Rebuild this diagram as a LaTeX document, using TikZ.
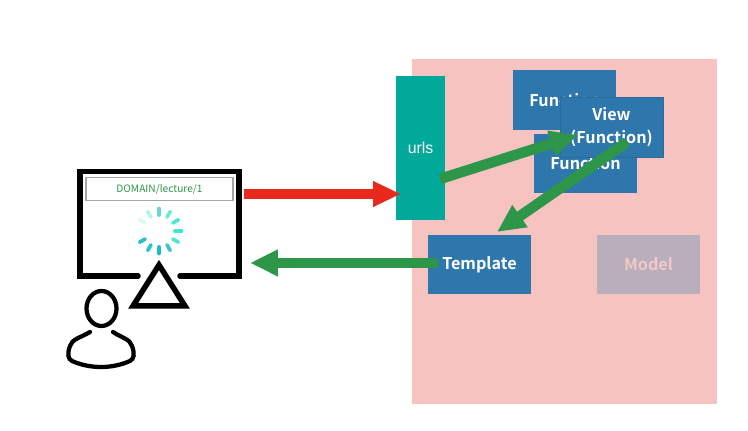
\documentclass[tikz,border=0pt]{standalone}
\usepackage{xcolor}
\usepackage{fontspec}
\setmainfont{Noto Sans CJK JP}[BoldFont={Noto Sans CJK JP Bold}]
\setsansfont{Liberation Sans}
\usetikzlibrary{positioning,shapes.geometric,arrows.meta,calc}
\definecolor{appPink}{HTML}{F7C3C1}
\definecolor{boxBlue}{HTML}{2E77AC}
\definecolor{urlTeal}{HTML}{00A99A}
\definecolor{modelGrey}{HTML}{B9AEBB}
\definecolor{modelText}{HTML}{F3C8C8}
\definecolor{arrGreen}{HTML}{2E9648}
\definecolor{arrRed}{HTML}{E8291C}
\definecolor{spinTeal}{HTML}{1FBCC2}
\definecolor{spinMint}{HTML}{3DE6CF}

\begin{document}
\begin{tikzpicture}[
    x=0.02cm,
    y=-0.02cm,
    box/.style={
        fill=boxBlue,
        minimum width=2.06cm,
        minimum height=1.19cm,
        inner sep=0pt,
        align=center,
        text=white,
        font=\fontsize{9.2}{13}\selectfont\bfseries
    },
    flowarr/.style={
        -{Triangle[length=0.56cm,width=0.5cm]},
        line width=0.21cm,
        arrGreen
    },
    reqarr/.style={
        -{Triangle[length=0.56cm,width=0.48cm]},
        line width=0.2cm,
        arrRed
    },
    outline/.style={draw=black, line width=0.11cm},
    spoke/.style={line width=0.075cm, line cap=round}
]
\useasboundingbox (0,0) rectangle (748,431);

% application area
\node[fill=appPink, minimum width=6.1cm, minimum height=6.9cm, inner sep=0pt] (app) at (564.5,231.5) {};

\node[fill=urlTeal, minimum width=0.98cm, minimum height=2.88cm, inner sep=0pt,
      text=white, font=\fontsize{9}{11}\selectfont\sffamily] (urls) at (420.5,148) {urls};

% function boxes, the view lies on top of the others
\node[box] (functop) at (564.5,100) {Function};
\node[box] (funclow) at (585.5,163.5) {Function};
\node[box, draw=boxBlue!90!black, line width=0.2pt] (view) at (611.5,127) {View\\(Function)};
\node[box] (template) at (479.5,264.5) {Template};
\node[box, fill=modelGrey, text=modelText] (model) at (648.5,264.5) {Model};

% browser window
\node[minimum width=3.2cm, minimum height=2.06cm, inner sep=0pt] (screen) at (159.5,223.5) {};
\draw[outline, line cap=round] (138,276) -- (80,276) -- (80,171.5) -- (239,171.5) -- (239,276) -- (180,276);
\node[draw=black!35, line width=0.7pt, minimum width=2.94cm, minimum height=0.47cm, inner sep=0pt,
      text=arrGreen, font=\fontsize{5.8}{7}\selectfont] (addr) at (159.5,189) {DOMAIN/lecture/1};

% loading spinner
\coordinate (spin) at (159,231);
\foreach \ang/\tone in {210/spinTeal!95,240/spinTeal!90,270/spinTeal,300/spinTeal!85,330/spinMint!90,0/spinMint,30/spinMint!90,60/spinMint!75,90/spinTeal!65,120/spinMint!40,150/spinMint!18,180/spinMint!8}
    \draw[spoke, draw=\tone] ($(spin)+({16*cos(\ang)},{-16*sin(\ang)})$) -- ($(spin)+({22.5*cos(\ang)},{-22.5*sin(\ang)})$);

% stand and user
\draw[outline, line join=miter, fill=white] (159,265) -- (185,306) -- (133,306) -- cycle;
\node[draw=black, line width=0.085cm, ellipse, minimum width=0.6cm, minimum height=0.7cm, inner sep=0pt] (head) at (101.5,308.5) {};
\draw[black, line width=0.085cm, line cap=round]
    (90,332) .. controls (80,338) and (72,339) .. (70,346)
    .. controls (67,354) and (68,359) .. (72,361)
    .. controls (90,369) and (112,369) .. (130,361)
    .. controls (134,359) and (135,354) .. (132,346)
    .. controls (130,339) and (122,338) .. (113,332);

% request and response arrows
\coordinate (reqstart) at (244,194);
\coordinate (reqend) at (401,194);
\coordinate (urlout) at (440,179);
\coordinate (viewin) at (578,135);
\coordinate (viewout) at (627,142);
\coordinate (tplin) at (497,232);
\coordinate (tplout) at (438,263);
\coordinate (screenin) at (250,263);

\draw[reqarr] (reqstart) -- (reqend);
\draw[flowarr] (urlout) -- (viewin);
\draw[flowarr] (viewout) -- (tplin);
\draw[flowarr] (tplout) -- (screenin);

\end{tikzpicture}
\end{document}
